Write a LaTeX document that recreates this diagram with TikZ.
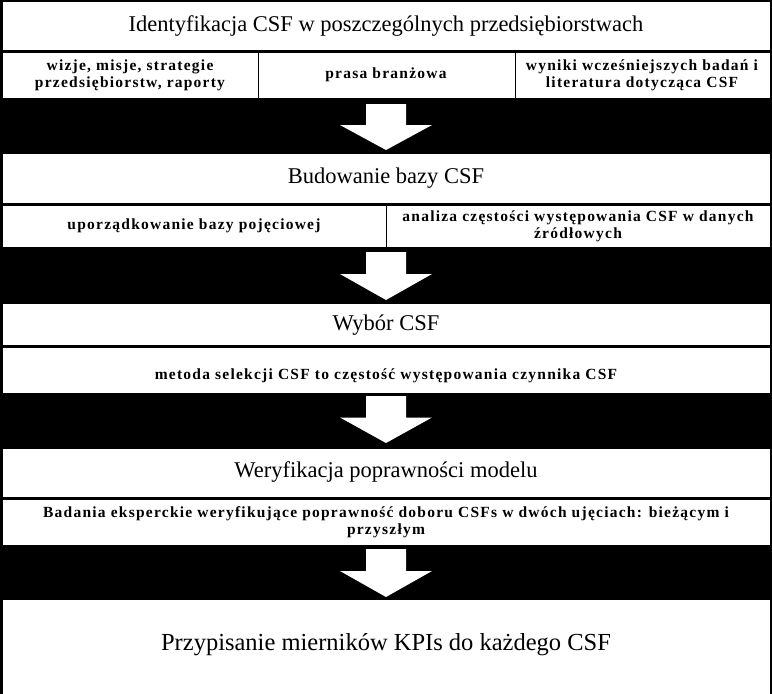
\documentclass[tikz,border=0pt]{standalone}
\usepackage{fontspec}
\setmainfont{Liberation Serif}
\begin{document}
\begin{tikzpicture}[x=1pt,y=-1pt,
  box/.style={fill=white,draw=black,line width=1pt},
  ttl/.style={font=\fontsize{22.5}{26}\selectfont},
  sub/.style={font=\fontsize{15.5}{17}\selectfont\bfseries\addfontfeature{LetterSpace=8},align=center},
  arr/.style={fill=white,draw=none}]
\fill[black] (0,0) rectangle (772,694);
\useasboundingbox (0,0) rectangle (772,694);
\newcommand{\bigarrow}[2]{\fill[white] (366,#1) -- (406,#1) -- (406,{(#1+#2)/2-2}) -- (432,{(#1+#2)/2-2}) -- (386,#2) -- (340,{(#1+#2)/2-2}) -- (366,{(#1+#2)/2-2}) -- cycle;}
% box 1
\draw[box] (2,1) rectangle (770,50);
\node[ttl] (t1) at (386,26) {Identyfikacja CSF w poszczególnych przedsiębiorstwach};
\draw[box] (2,52) rectangle (258,98);
\draw[box] (258,52) rectangle (515,98);
\draw[box] (515,52) rectangle (770,98);
\node[sub] (s11) at (130,75) {wizje, misje, strategie\\przedsiębiorstw, raporty};
\node[sub] (s12) at (386,75) {prasa branżowa};
\node[sub] (s13) at (642,75) {wyniki wcześniejszych badań i\\literatura dotycząca CSF};
\bigarrow{104}{150}
% box 2
\draw[box] (2,153) rectangle (770,203);
\node[ttl] (t2) at (386,178) {Budowanie bazy CSF};
\draw[box] (2,205) rectangle (386,247);
\draw[box] (386,205) rectangle (770,247);
\node[sub] (s21) at (194,226) {uporządkowanie bazy pojęciowej};
\node[sub] (s22) at (578,226) {analiza częstości występowania CSF w danych\\źródłowych};
\bigarrow{252}{300}
% box 3
\draw[box] (2,303) rectangle (770,345);
\node[ttl] (t3) at (386,325) {Wybór CSF};
\draw[box] (2,347) rectangle (770,393);
\node[sub] (s31) at (386,376) {metoda selekcji CSF to częstość występowania czynnika CSF};
\bigarrow{396}{443}
% box 4
\draw[box] (2,448) rectangle (770,497);
\node[ttl] (t4) at (386,472) {Weryfikacja poprawności modelu};
\draw[box] (2,499) rectangle (770,545);
\node[sub] (s41) at (386,522) {Badania eksperckie weryfikujące poprawność doboru CSFs w dwóch ujęciach: bieżącym i\\przyszłym};
\bigarrow{549}{597}
% box 5
\draw[box] (2,599) rectangle (770,694);
\node[font=\fontsize{24.5}{28}\selectfont] (t5) at (386,645) {Przypisanie mierników KPIs do każdego CSF};
\end{tikzpicture}
\end{document}
